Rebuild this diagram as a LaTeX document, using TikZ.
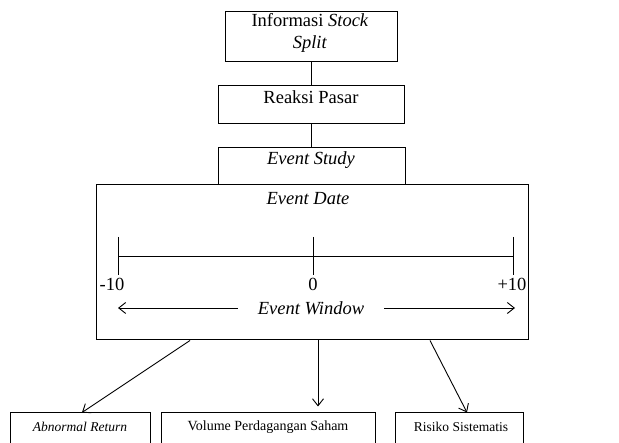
\documentclass[tikz,border=0pt]{standalone}
\usepackage{fontspec}
\setmainfont{Liberation Serif}
\usetikzlibrary{arrows.meta,calc}

\begin{document}
\begin{tikzpicture}
  [
    x=1pt, y=-1pt,
    box/.style =
      {draw, rectangle, line width=1pt, inner sep=0pt},
    txt/.style =
      {font=\fontsize{18.5}{22}\selectfont, align=center, inner sep=1pt},
    small/.style =
      {font=\fontsize{13.5}{16}\selectfont, inner sep=0pt},
    arr/.style =
      {-{Straight Barb[length=7pt,width=11pt]}, line width=0.9pt}
  ]
  \useasboundingbox (0,0) rectangle (619,443);

  \node [box, minimum width=172, minimum height=50]  at (311,37)    (info)  {};
  \node [box, minimum width=186, minimum height=38]  at (311,105)   (reak)  {};
  \node [box, minimum width=187, minimum height=37]  at (311.5,166.5) (stud) {};
  \node [box, minimum width=432, minimum height=155] at (312,262.5) (event) {};
  \node [box, minimum width=140, minimum height=40]  at (80,433)    (abn)   {};
  \node [box, minimum width=214, minimum height=40]  at (268,433)   (vol)   {};
  \node [box, minimum width=128, minimum height=40]  at (459,433)   (ris)   {};

  \node [txt] at (310,33)  (infot) {Informasi \textit{Stock}\\\textit{Split}};
  \node [txt] at (311,97)  (reakt) {Reaksi Pasar};
  \node [txt] at (311,160) (studt) {\textit{Event Study}};
  \node [txt] at (308,199) (datet) {\textit{Event Date}};
  \node [small] at (80,427)  (abnt) {\textit{Abnormal Return}};
  \node [small, font=\fontsize{14}{16}\selectfont] at (268,427) (volt) {Volume Perdagangan Saham};
  \node [small] at (461,427) (rist) {Risiko Sistematis};

  % timeline
  \coordinate (tl) at (118,256);
  \coordinate (tm) at (313,256);
  \coordinate (tr) at (513,256);
  \draw[line width=0.9pt] (tl) -- (tr);
  \foreach \p in {tl,tm,tr}
    \draw[line width=0.9pt] ($(\p)+(0,-19)$) -- ($(\p)+(0,19)$);
  \node [txt] at (112,284) (lm) {-10};
  \node [txt] at (313,284) (l0) {0};
  \node [txt] at (512,284) (lp) {+10};

  \node [txt, inner xsep=20pt] at (311,308) (win) {\textit{Event Window}};
  \coordinate (wl) at (118,308);
  \coordinate (wr) at (515,308);
  \draw[arr] (win.west) -- (wl);
  \draw[arr] (win.east) -- (wr);

  \draw[line width=1pt] (info.south) -- (info.south |- reak.north);
  \draw[line width=1pt] (reak.south) -- (reak.south |- stud.north);

  \coordinate (b1) at ($(event.south)+(-122,0)$);
  \coordinate (b2) at ($(event.south)+(6,0)$);
  \coordinate (b3) at ($(event.south)+(118,0)$);
  \draw[arr] (b1) -- ($(abn.north)+(2,0)$);
  \draw[arr] (b2) -- ([yshift=6pt]b2 |- vol.north);
  \draw[arr] (b3) -- ($(ris.north)+(8,0)$);

\end{tikzpicture}
\end{document}
